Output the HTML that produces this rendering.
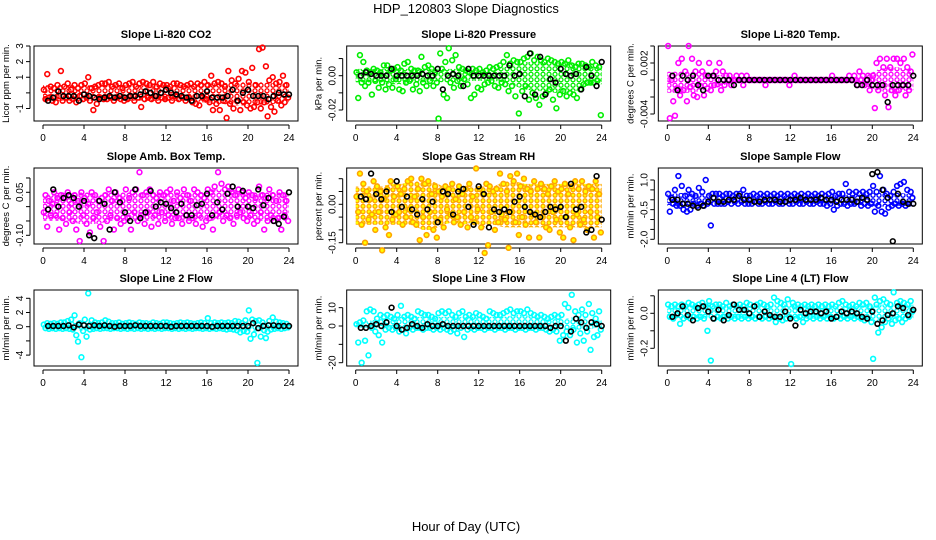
<!DOCTYPE html>
<html><head><meta charset="utf-8"><style>
body{margin:0;background:#fff}
svg{display:block;font-family:"Liberation Sans",sans-serif}
</style></head><body>
<svg id="c" width="936" height="540" viewBox="0 0 936 540">
<defs id="defs"></defs>
<text x="466" y="13" text-anchor="middle" font-size="13">HDP_120803  Slope Diagnostics</text>
<text x="466" y="531" text-anchor="middle" font-size="13">Hour of Day (UTC)</text>
</svg>
<script>
const xTicks=[0,4,8,12,16,20,24];
const titles=["Slope Li-820 CO2","Slope Li-820 Pressure","Slope Li-820 Temp.","Slope Amb. Box Temp.","Slope Gas Stream RH","Slope Sample Flow","Slope Line 2 Flow","Slope Line 3 Flow","Slope Line 4 (LT) Flow"];
const yTitles=["Licor ppm per min.","kPa per min.","degrees C per min.","degrees C per min.","percent per min.","ml/min per min.","ml/min per min.","ml/min per min.","ml/min per min."];
const colors=["#ff0000","#00ee00","#ff00ff","#ff00ff","#ffa500","#0000ff","#00ffff","#00ffff","#00ffff"];
const yTickVals=[[-1,0,1,2,3],[-.02,-.01,0,.01],[-.004,-.002,0,.002,.004],[-.1,-.05,0,.05,.1],[-.15,-.1,-.05,0,.05,.1],[-2,-1.5,-1,-.5,0,.5,1],[-4,-2,0,2,4],[-20,-10,0,10],[-.2,-.1,0,.1]];
const yTickLabels=[["-1","","1","2","3"],["-0.02","","0.00",""],["-0.004","","","0.002",""],["-0.10","","","0.05",""],["-0.15","","","0.00","",""],["-2.0","","","-0.5","","","1.0"],["-4","","0","2","4"],["-20","","0","10"],["-0.2","","0.0",""]];
const co2=[0.2,-0.4,1.2,-0.3,0.4,-0.5,0.3,-0.6,0.5,-0.2,1.4,-0.5,0.4,-0.3,0.6,-0.5,0.2,-0.4,0.5,-0.6,0.3,-0.2,0.5,-0.4,0.6,-0.3,1.0,-0.5,0.3,-1.1,0.4,-0.7,0.5,-0.3,0.6,-0.4,0.6,-0.4,0.7,-0.3,0.4,-0.5,0.5,-0.3,0.6,-0.4,0.3,-0.5,0.5,-0.4,0.6,-0.2,0.7,-0.5,0.4,-0.3,0.6,-0.9,0.7,-0.4,0.6,-0.3,0.5,-0.4,0.7,-0.2,0.4,-0.5,0.6,-0.3,0.5,-0.4,0.5,-0.3,0.4,-0.5,0.6,-0.2,0.6,-0.4,0.5,-0.3,0.4,-0.5,0.5,-0.3,0.6,-0.6,0.4,-0.7,0.6,-0.8,0.5,-0.3,0.7,-0.4,0.5,-0.6,1.1,-1.1,0.6,-0.7,0.7,-1.1,0.6,-0.5,0.4,-1.6,1.4,-0.7,0.8,-1.0,0.6,-0.5,0.9,-1.1,1.4,-0.6,1.3,-0.8,0.7,-1.0,1.6,-0.9,0.5,-0.6,2.8,-1.0,2.9,-0.6,1.7,-1.5,0.8,-0.9,1.0,-1.2,0.6,-0.5,0.7,-0.8,1.1,-0.6,0.5,-0.3];
const co2Avg=[-0.5,-0.3,0.1,-0.2,-0.2,-0.2,-0.5,-0.1,-0.2,-0.3,-0.4,-0.3,-0.2,-0.3,-0.2,-0.3,-0.2,-0.2,-0.1,0.1,0,-0.2,0,0.2,0,-0.1,-0.2,-0.3,-0.5,-0.2,-0.2,0.1,-0.3,-0.3,-0.3,-0.2,0.2,-0.5,0,0.2,-0.2,-0.2,-0.2,-0.4,-0.2,0,-0.1,-0.1];
const co2BandHi=[0.5,0.5,0.5,0.5,0.5,0.5,0.6,0.5,0.5,0.5,0.6,0.5,0.5,0.5,0.5,0.6,0.6,0.6,0.7,0.7,0.7,0.7,0.6,0.6];
const co2BandLo=[-0.5,-0.5,-0.5,-0.5,-0.5,-0.5,-0.5,-0.5,-0.5,-0.5,-0.5,-0.5,-0.5,-0.5,-0.5,-0.6,-0.7,-0.7,-0.8,-0.8,-0.8,-0.8,-0.7,-0.6];
const pres=[.002,-.013,.012,-.004,.008,-.006,.003,-.004,.002,-.011,.004,-.003,.003,-.007,.002,-.004,.006,-.008,.006,-.005,.003,-.007,.004,-.002,.005,-.008,.003,-.009,.007,-.004,.008,-.003,.004,-.008,.003,-.005,.003,-.009,.011,-.004,.005,-.006,.006,-.003,.004,-.006,.002,-.004,-.025,.013,.004,-.011,.008,-.013,.016,-.004,.009,-.007,.012,-.003,.005,-.006,.004,-.002,.003,-.005,.002,-.013,.004,-.011,.003,-.007,.004,-.008,.002,-.005,.003,-.004,.005,-.003,.004,-.006,.005,-.007,.006,-.004,.008,-.005,.012,-.009,.007,-.006,.009,-.012,.008,-.022,.008,-.009,.010,-.006,.011,-.014,.013,-.010,.009,-.013,.011,-.017,.009,-.012,.008,-.010,.010,-.008,.009,-.014,.008,-.019,.007,-.011,.008,-.009,.007,-.012,.009,-.010,.006,-.011,.005,-.013,.007,-.008,.007,-.005,.006,-.004,.005,-.004,.008,-.004,.006,-.003,.005,-.023];
const presAvg=[0,.002,.001,0,0,0,.004,0,0,0,0,0,.001,0,0,.004,-.008,0,.001,0,-.006,.004,0,0,0,0,0,0,0,.006,0,.001,-.012,.013,-.011,.011,-.011,-.002,-.004,.004,.001,0,.001,-.008,.005,0,-.006,.008];
const presBandHi=[.004,.004,.004,.004,.004,.004,.004,.004,.004,.004,.004,.003,.003,.003,.005,.006,.008,.008,.008,.008,.008,.007,.006,.005];
const presBandLo=[-.004,-.004,-.004,-.005,-.005,-.004,-.004,-.003,-.004,-.004,-.003,-.003,-.003,-.003,-.004,-.006,-.008,-.009,-.009,-.010,-.010,-.009,-.006,-.005];
const ltemp=[.004,-.0045,0,-.0025,-.0042,-.001,.002,-.0018,.0025,-.0012,.001,-.0025,.004,-.0008,.0025,-.0018,.001,-.002,.002,-.0007,.001,-.0018,.0005,-.001,.002,-.0012,.0005,-.0006,.001,-.0005,.002,-.0012,.001,-.0006,.0005,0,.0005,-.0006,0,0,.0005,0,0,.0005,-.0006,0,.0005,0,0,0,0,0,0,0,0,0,0,-.0006,0,0,0,0,0,0,0,0,0,0,0,0,0,-.0006,0,0,.0005,0,0,0,0,0,0,0,0,0,0,0,0,0,0,0,0,0,0,0,0,0,.0005,0,0,0,0,0,0,0,0,0,.0005,0,0,.0005,0,-.0006,.001,0,.0005,-.0006,0,.0005,-.0012,0,.0005,-.0033,.002,-.0012,.0025,-.0006,.0015,-.0018,.0025,-.0032,.0015,-.0012,.0025,-.0018,.0025,-.0012,.002,-.0006,.0025,-.0018,.0015,-.0012,.001,.003];
const ltempAvg=[.0005,-.0012,.0005,0,.0005,-.0006,-.0012,.0005,.0005,0,0,0,-.0006,0,0,0,0,0,0,0,0,0,0,0,0,0,0,0,0,0,0,0,0,0,0,0,-.0006,-.0006,0,-.0006,-.0006,-.0006,-.0026,-.0006,-.0006,-.0006,-.0006,.0005];
const ltempBandHi=[.001,.001,.001,.001,.0006,.0006,.0003,.0002,.0002,.0002,.0002,.0002,.0002,.0002,.0002,.0002,.0002,.0002,.0003,.0006,.0012,.0015,.0015,.0012];
const ltempBandLo=[-.0015,-.0015,-.0015,-.0012,-.0008,-.0006,-.0003,-.0002,-.0002,-.0002,-.0002,-.0002,-.0002,-.0002,-.0002,-.0002,-.0002,-.0002,-.0003,-.0008,-.0012,-.0015,-.0015,-.0012];
const amb=[-.02,.04,-.07,.02,-.03,.01,.05,-.03,.03,-.08,.04,-.04,.03,-.06,.05,-.02,.01,-.05,.04,-.08,.02,-.12,.05,-.03,.03,-.06,.01,-.09,.05,-.04,.04,-.02,.02,-.07,.03,-.12,.04,-.05,.06,-.03,.02,-.08,.05,-.04,.03,-.06,.02,-.05,.06,-.04,.03,-.08,.05,-.02,.06,-.05,.12,-.03,.04,-.06,.05,-.02,.06,-.07,.04,-.03,.03,-.06,.05,-.02,.04,-.05,.05,-.03,.06,-.06,.02,-.04,.05,-.04,.03,-.06,.06,-.03,.04,-.05,.02,-.04,.06,-.06,.05,-.03,.04,-.07,.03,-.05,.06,-.04,.05,-.08,.07,-.03,.12,-.02,.08,-.05,.06,-.03,.07,-.04,.05,-.06,.04,-.03,.06,-.02,.05,-.04,.03,-.05,.05,-.03,.04,-.06,.03,-.05,.07,-.02,.04,-.08,.03,-.05,.06,-.03,.04,-.05,.02,-.04,.05,-.08,.04,-.03,.02,-.05];
const ambAvg=[-.01,.06,0,.03,.04,.03,0,.02,-.1,-.11,.02,.01,-.08,.05,.015,-.02,-.05,.06,-.04,-.02,.055,0,.015,.01,-.005,-.02,.01,-.03,-.03,.005,.01,.045,-.03,.015,-.01,.045,.07,0,.055,0,-.005,.06,.005,.03,-.05,-.06,-.035,.05];
const ambBandHi=[.04,.05,.05,.05,.05,.04,.05,.05,.05,.05,.05,.05,.05,.05,.05,.05,.06,.06,.06,.05,.05,.05,.05,.05];
const ambBandLo=[-.05,-.05,-.05,-.06,-.06,-.06,-.05,-.05,-.05,-.05,-.05,-.05,-.05,-.05,-.05,-.05,-.05,-.04,-.05,-.04,-.05,-.05,-.05,-.05];
const rh=[.03,-.03,.12,-.08,.08,-.15,.05,-.06,.02,-.04,.09,-.10,.07,-.03,.05,-.18,.02,-.09,.06,-.12,.09,-.06,.03,-.04,.07,-.03,.04,-.08,.06,-.05,.09,-.02,.10,-.07,.03,-.08,.06,-.14,.10,-.05,.08,-.12,.09,-.03,.04,-.10,.07,-.13,.05,-.06,.03,-.09,.07,-.02,.06,-.04,.08,-.07,.02,-.05,.07,-.08,.04,-.03,.06,-.09,.08,-.05,.03,-.07,.14,-.02,.06,-.09,.04,-.19,.08,-.16,.07,-.03,.05,-.10,.06,-.07,.12,-.04,.08,-.06,.05,-.17,.11,-.03,.09,-.07,.12,-.12,.07,-.05,.10,-.08,.06,-.13,.05,-.04,.09,-.07,.06,-.13,.08,-.05,.06,-.09,.04,-.10,.07,-.03,.09,-.06,.05,-.11,.06,-.13,.08,-.05,.04,-.09,.07,-.14,.09,-.04,.06,-.08,.09,-.06,.05,-.10,.07,-.03,.06,-.13,.09,-.05,.04,-.11];
const rhAvg=[.03,.02,.12,.04,.02,.05,-.03,.09,-.01,.03,-.02,-.04,.02,-.02,.01,-.07,.05,.04,-.04,.05,.06,-.01,-.08,.07,.04,-.09,-.02,-.03,-.02,-.03,.01,.03,-.01,-.03,-.04,-.05,-.03,-.01,-.02,-.01,-.05,.08,-.02,-.01,-.11,-.10,.11,-.06];
const rhBandHi=[.07,.07,.07,.08,.08,.09,.09,.09,.07,.07,.07,.07,.07,.07,.09,.09,.08,.08,.08,.08,.08,.08,.08,.08];
const rhBandLo=[-.08,-.08,-.08,-.08,-.08,-.08,-.1,-.1,-.08,-.07,-.08,-.07,-.09,-.08,-.09,-.09,-.09,-.09,-.09,-.09,-.09,-.09,-.09,-.09];
const sflow=[.3,-.6,.1,-.2,.5,-.3,1.2,-.3,.7,-.5,.2,-.6,.5,-.5,.3,-.2,.2,-.3,.6,-.2,.4,-.3,1.0,-.2,.2,-1.3,.3,-.2,.3,-.2,.3,-.2,.2,-.2,.3,-.1,.3,-.2,.2,-.1,.3,-.2,.3,-.1,.5,-.2,.2,-.2,.2,-.2,.3,-.1,.2,-.2,.3,-.2,.2,-.1,.3,-.2,.2,-.2,.3,-.1,.2,-.2,.3,-.2,.2,-.1,.3,-.2,.2,-.2,.3,-.1,.2,-.2,.3,-.2,.2,-.1,.3,-.2,.2,-.2,.3,-.1,.2,-.2,.3,-.2,.2,-.3,.3,-.2,.4,-.5,.2,-.3,.3,-.2,.3,-.2,.8,-.3,.4,-.2,.3,-.2,.4,-.1,.3,-.3,.4,-.2,.3,-.3,.4,-.2,.7,-.6,.4,-.3,1.2,-.6,.5,-.7,.3,-.4,.2,-.3,.4,-.2,.7,-.3,.8,-.2,.9,-.3,.5,-.2,.4,.1];
const sflowAvg=[0,0,-.2,-.2,-.3,-.4,-.3,-.1,.1,-.1,-.1,0,0,.2,0,0,-.1,-.1,0,0,0,-.1,-.1,0,0,.1,0,0,0,.1,0,0,-.1,0,0,0,-.1,.1,0,1.3,1.4,.5,.1,-2.1,.3,-.1,-.2,-.2];
const sflowBandHi=[.3,.35,.3,.3,.25,.25,.2,.2,.2,.2,.2,.2,.2,.2,.2,.2,.25,.25,.25,.3,.35,.35,.35,.3];
const sflowBandLo=[-.3,-.4,-.35,-.3,-.25,-.2,-.2,-.2,-.2,-.2,-.2,-.2,-.2,-.2,-.2,-.2,-.25,-.25,-.25,-.3,-.35,-.35,-.3,-.3];
const l2=[.3,-.2,.5,-.3,.4,-.2,.5,-.3,.4,-.2,.6,-.3,.6,-.2,.8,-.3,1.0,-.4,1.6,-1.2,-2.1,.5,-4.3,-.6,1.0,-1.4,4.7,-.4,.9,-.3,.6,-.2,.5,-.3,.6,-.2,.9,-.2,.7,-.3,.5,-.2,.5,-.2,.6,-.3,.4,-.2,.5,-.3,.6,-.2,.5,-.3,.4,-.2,.6,-.3,.5,-.2,.5,-.3,.4,-.2,.6,-.3,.5,-.2,.4,-.3,.6,-.2,.6,-.2,.5,-.3,.4,-.2,.5,-.3,.6,-.2,.5,-.3,.6,-.2,.5,-.3,.4,-.2,.5,-.2,.6,-.3,.5,-.2,1.2,-.3,.5,-.2,.6,-.3,.5,-.2,.6,-.3,.5,-.4,.6,-.3,.5,-.4,.8,-.5,.7,-.8,.5,-.6,.9,-.7,2.3,-1.7,1.0,-1.1,.8,-5.1,.9,-1.4,.6,-.5,-1.6,-.7,.8,-.4,1.3,-.3,.7,-.2,.6,-.3,.5,-.2,.4,-.1];
const l2Avg=[.1,.1,.1,.1,.2,-.1,.3,.2,.1,.2,.1,.2,.1,0,.1,.1,.1,.2,.1,.1,.1,.1,.1,.1,0,.1,.1,.1,.1,.1,.1,.1,0,.1,.1,.1,.1,.1,.1,.1,.5,-.2,.1,.2,.2,.1,.1,.1];
const l2BandHi=[.4,.4,.6,.8,.7,.5,.5,.4,.4,.4,.4,.4,.4,.4,.4,.4,.4,.4,.4,.5,.6,.6,.5,.4];
const l2BandLo=[-.3,-.3,-.3,-.6,-.6,-.3,-.3,-.3,-.3,-.3,-.3,-.3,-.3,-.3,-.3,-.3,-.3,-.3,-.3,-.5,-.7,-.6,-.4,-.3];
const l3=[1,-9,2,-20,3,-8,8,-16,9,-1,8,-3,4,-5,6,-9,5,-2,6,-1,5,-2,4,-1,6,-3,11,-2,5,-4,6,-1,5,-2,4,-1,8,-1,7,-2,6,-1,6,-1,5,-2,4,-1,7,-2,8,-1,7,-2,8,-3,6,-2,5,-4,7,-1,8,-6,5,-2,6,-1,5,-2,7,-1,6,-1,5,-2,4,-1,8,-1,7,-2,6,-1,6,-1,7,-2,8,-1,9,-1,7,-2,8,-1,8,-1,7,-2,9,-1,7,-1,6,-2,5,-1,6,-1,5,-2,4,-3,5,-2,6,-3,5,-8,6,-5,12,-3,10,-5,17,-2,8,-9,6,-4,9,-8,6,-3,12,-13,7,-6,4,-5,8,-2];
const l3Avg=[-1,-1,0,1,0,2,10,0,-2,-1,1,0,-1,1,0,0,1,0,0,0,0,0,0,0,0,0,0,0,0,0,0,0,0,0,0,0,0,-1,0,0,-8,-3,4,2,-1,2,1,0];
const l3BandHi=[2,3,4,5,5,5,5,5,5,5,5,5,5,5,5,6,6,5,4,4,4,5,4,3];
const l3BandLo=[-1,-1,-1,-1,-1,-1,-1,-1,-1,-1,-1,-1,-1,-1,-1,-1,-1,-1,-1,-1,-2,-2,-2,-1];
const l4=[.05,-.02,.04,-.03,.05,-.01,.04,-.06,.05,-.03,.04,-.02,.06,-.03,.05,-.02,.04,-.03,.05,-.02,.06,-.03,.04,-.1,.07,-.27,.04,-.03,.05,-.02,.05,-.03,.04,-.02,.06,-.03,.04,-.02,.05,-.03,.04,-.02,.05,-.03,.04,-.02,.06,-.03,.05,-.02,.04,-.03,.05,-.02,.06,-.03,.05,-.02,.04,-.03,.05,-.02,.09,-.05,.07,-.03,.06,-.04,.05,-.03,.08,-.02,-.29,.06,.04,-.03,.05,-.02,.04,-.05,.05,-.03,.04,-.02,.05,-.03,.04,-.02,.05,-.03,.04,-.02,.05,-.03,.04,-.02,.05,-.03,.04,-.02,.06,-.03,.07,-.02,.05,-.03,.04,-.02,.05,-.03,.04,-.02,.06,-.03,.05,-.04,.06,-.03,.04,-.05,-.26,.09,.05,-.11,.07,-.08,.08,-.05,.06,-.03,.05,-.06,.12,-.04,.06,-.03,.07,-.05,.06,-.03,.05,-.02,.07,.01];
const l4Avg=[-.02,0,.04,-.01,-.04,.03,.04,.01,-.03,.02,-.04,-.01,.05,.02,.02,0,.04,-.02,.01,-.01,-.02,-.02,.01,-.03,-.07,.02,0,.01,.01,0,.01,-.03,-.02,.01,0,.01,0,-.02,-.03,.01,-.06,-.04,-.01,0,.04,.03,-.01,.02];
const l4BandHi=[.04,.04,.05,.05,.05,.05,.04,.04,.04,.04,.05,.05,.05,.04,.04,.04,.04,.04,.04,.05,.05,.05,.05,.05];
const l4BandLo=[-.03,-.04,-.03,-.03,-.03,-.03,-.03,-.03,-.03,-.03,-.03,-.03,-.03,-.03,-.03,-.03,-.03,-.03,-.03,-.04,-.05,-.04,-.04,-.03];
const seriesRaw=[co2,pres,ltemp,amb,rh,sflow,l2,l3,l4];
const seriesAvg=[co2Avg,presAvg,ltempAvg,ambAvg,rhAvg,sflowAvg,l2Avg,l3Avg,l4Avg];
const bandHi=[co2BandHi,presBandHi,ltempBandHi,ambBandHi,rhBandHi,sflowBandHi,l2BandHi,l3BandHi,l4BandHi];
const bandLo=[co2BandLo,presBandLo,ltempBandLo,ambBandLo,rhBandLo,sflowBandLo,l2BandLo,l3BandLo,l4BandLo];

const colX0=[43,355.7,667.3], xScale=10.25;
const rowBox=[[46,121],[168,244],[290,366]];
const yCal=[[3,46,-1,108.5],[0,75.7,-.02,110],[.002,63,-.004,114],[.05,192.3,-.1,235.3],[0,204.3,-.15,242.7],[1,180,-2,239.3],[0,326.7,4,298.3],[0,326,-20,362.7],[0,313.3,-.2,348.3]];
const NS="http://www.w3.org/2000/svg";
const svg=document.getElementById('c');
const defs=document.getElementById('defs');
function mk(tag,attrs,parent){const e=document.createElementNS(NS,tag);for(const k in attrs)e.setAttribute(k,attrs[k]);(parent||svg).appendChild(e);return e;}
for(let p=0;p<9;p++){
  const pat=mk('pattern',{id:'pat'+p,patternUnits:'userSpaceOnUse',width:6,height:5.5},defs);
  mk('circle',{cx:3,cy:2.75,r:2,fill:p===4?'#ffff00':'none',stroke:colors[p],'stroke-width':1.3},pat);
}
for(let p=0;p<9;p++){
  const col=p%3,row=Math.floor(p/3);
  const x0=colX0[col];const [top,bot]=rowBox[row];const left=x0-9,right=x0+255;
  const c=yCal[p];
  const xs=h=>x0+h*xScale;
  const ys=v=>c[1]+(v-c[0])*(c[3]-c[1])/(c[2]-c[0]);
  const g=mk('g',{});
  
  
  const t=mk('text',{x:(left+right)/2,y:top-8,'text-anchor':'middle','font-size':11,'font-weight':'bold'},g);
  t.textContent=titles[p];
  
  
  const fr=mk('rect',{x:left,y:top,width:right-left,height:bot-top,fill:'none',stroke:'#000','stroke-width':1},g);
  
  
  const xa=mk('g',{},g);
  
  
  mk('line',{x1:xs(0),x2:xs(24),y1:bot+4,y2:bot+4,stroke:'#000'},xa);
  xTicks.forEach(v=>{
    mk('line',{x1:xs(v),x2:xs(v),y1:bot+4,y2:bot+8,stroke:'#000'},xa);
    const tl=mk('text',{x:xs(v),y:bot+20,'text-anchor':'middle','font-size':10},xa);
    tl.textContent=v;
    
    
  });
  const ya=mk('g',{},g);
  
  
  const tv=yTickVals[p];
  mk('line',{x1:left-4,x2:left-4,y1:ys(tv[0]),y2:ys(tv[tv.length-1]),stroke:'#000'},ya);
  tv.forEach((v,i)=>{
    const y=ys(v);
    mk('line',{x1:left-8,x2:left-4,y1:y,y2:y,stroke:'#000'},ya);
    if(yTickLabels[p][i]){
      const tl=mk('text',{x:left-11,y:y,'text-anchor':'middle','font-size':10,transform:`rotate(-90 ${left-11} ${y})`},ya);
      tl.textContent=yTickLabels[p][i];
      
      
    }
  });
  const yt=mk('text',{x:left-25,y:(top+bot)/2,'text-anchor':'middle','font-size':9.5,transform:`rotate(-90 ${left-25} ${(top+bot)/2})`},g);
  yt.textContent=yTitles[p];
  
  
  let d='M'+xs(0)+','+ys(bandHi[p][0]);
  bandHi[p].forEach((v,i)=>{d+=' L'+xs(i+0.5)+','+ys(v);});
  d+=' L'+xs(24)+','+ys(bandHi[p][23])+' L'+xs(24)+','+ys(bandLo[p][23]);
  for(let i=bandLo[p].length-1;i>=0;i--){d+=' L'+xs(i+0.5)+','+ys(bandLo[p][i]);}
  d+=' L'+xs(0)+','+ys(bandLo[p][0])+' Z';
  const band=mk('path',{d:d,fill:`url(#pat${p})`,stroke:'none'},g);
  
  
  const rg=mk('g',{fill:p===4?'#ffff00':'none',stroke:colors[p],'stroke-width':1.6},g);
  
  
  seriesRaw[p].forEach((v,i)=>{
    const pt=mk('circle',{cx:xs(i/6+0.08),cy:ys(v),r:2.4},rg);
    
    
  });
  const bg=mk('g',{fill:'none',stroke:'#000','stroke-width':1.6},g);
  
  
  seriesAvg[p].forEach((v,i)=>{
    const pt=mk('circle',{cx:xs((i+1)*0.5),cy:ys(v),r:2.4},bg);
    
    
  });
}
</script>
</body></html>
